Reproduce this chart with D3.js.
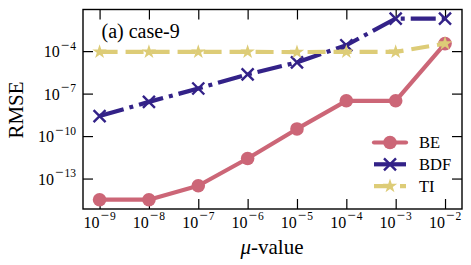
<!DOCTYPE html>
<html>
<head>
<meta charset="utf-8">
<script src="https://cdn.jsdelivr.net/npm/d3@7"></script>
<style>
  body { margin: 0; background: #fff; }
  svg { display: block; }
  svg text { font-family: "Liberation Serif", "Times New Roman", Times, serif; }
</style>
</head>
<body>
<svg id="chart" width="471" height="265"></svg>
<script>
// data
var muValues = [1e-9, 1e-8, 1e-7, 1e-6, 1e-5, 1e-4, 1e-3, 1e-2];
var xTickExp = [-9, -8, -7, -6, -5, -4, -3, -2];
var yTickExp = [-13, -10, -7, -4];
var seriesNames = ["BE", "BDF", "TI"];
var beValues  = [3.2e-15, 3.2e-15, 3.1e-14, 2.6e-12, 3.2e-10, 3.1e-8, 3.1e-8, 3.4e-4];
var bdfValues = [2.6e-9, 2.6e-8, 2.3e-7, 2.3e-6, 1.6e-5, 2.6e-4, 2.0e-2, 2.0e-2];
var tiValues  = [8.8e-5, 8.8e-5, 8.8e-5, 8.8e-5, 8.6e-5, 8.8e-5, 8.8e-5, 3.4e-4];

var svg = d3.select("#chart");
var L = 83, R = 462, T = 9.5, B = 209;

var x = d3.scaleLog().domain([Math.pow(10, -9.336), Math.pow(10, -1.656)]).range([L, R]);
var y = d3.scaleLog().domain([Math.pow(10, -15.15), Math.pow(10, -1.06)]).range([B, T]);

var styles = {
  BE:  { color: "#CC6677", dash: null,        values: beValues },
  BDF: { color: "#332288", dash: "25,6,4,6",  values: bdfValues },
  TI:  { color: "#DDCC77", dash: "18,8",      values: tiValues }
};

// "10" with a mathtext-like superscript (wide minus sign)
function supLabel(sel, exp) {
  sel.text(null);
  sel.append("tspan").attr("font-size", 16).text("10");
  sel.append("tspan").attr("dy", -7.5).attr("dx", 1).attr("font-size", 15).text("\u2212");
  sel.append("tspan").attr("dx", 1).attr("font-size", 11.5).text(String(Math.abs(exp)));
}

// axes (ticks inside, all four sides)
var xTicks = xTickExp.map(function(e) { return Math.pow(10, e); });
var yTicks = yTickExp.map(function(e) { return Math.pow(10, e); });

function noDomain(g) { g.select(".domain").remove(); }

svg.append("g").attr("transform", "translate(0," + B + ")")
  .call(d3.axisBottom(x).tickValues(xTicks).tickSizeInner(-10).tickSizeOuter(0).tickFormat(""))
  .call(noDomain);
svg.append("g").attr("transform", "translate(0," + T + ")")
  .call(d3.axisTop(x).tickValues(xTicks).tickSizeInner(-10).tickSizeOuter(0).tickFormat(""))
  .call(noDomain);
svg.append("g").attr("transform", "translate(" + L + ",0)")
  .call(d3.axisLeft(y).tickValues(yTicks).tickSizeInner(-10).tickSizeOuter(0).tickFormat(""))
  .call(noDomain);
svg.append("g").attr("transform", "translate(" + R + ",0)")
  .call(d3.axisRight(y).tickValues(yTicks).tickSizeInner(-10).tickSizeOuter(0).tickFormat(""))
  .call(noDomain);
svg.selectAll(".tick line").attr("stroke", "#000").attr("stroke-width", 1.2);

// tick labels
svg.append("g").selectAll("text").data(xTickExp).join("text")
  .attr("x", function(e) { return x(Math.pow(10, e)); })
  .attr("y", 227.5)
  .attr("text-anchor", "middle")
  .each(function(e) { supLabel(d3.select(this), e); });

svg.append("g").selectAll("text").data(yTickExp).join("text")
  .attr("x", 76)
  .attr("y", function(e) { return y(Math.pow(10, e)) + 6; })
  .attr("text-anchor", "end")
  .each(function(e) { supLabel(d3.select(this), e); });

// lines and markers
var line = d3.line().x(function(d, i) { return x(muValues[i]); }).y(function(d) { return y(d); });

function marker(g, name, cx, cy) {
  var c = styles[name].color;
  if (name === "BE") {
    g.append("circle").attr("cx", cx).attr("cy", cy).attr("r", 6.8).attr("fill", c);
  } else if (name === "BDF") {
    var s = 6;
    g.append("path")
      .attr("d", "M" + (cx - s) + "," + (cy - s) + "L" + (cx + s) + "," + (cy + s) +
                 "M" + (cx - s) + "," + (cy + s) + "L" + (cx + s) + "," + (cy - s))
      .attr("stroke", c).attr("stroke-width", 2.4).attr("fill", "none");
  } else {
    g.append("path")
      .attr("transform", "translate(" + cx + "," + cy + ")")
      .attr("d", d3.symbol().type(d3.symbolStar).size(65)())
      .attr("fill", c);
  }
}

seriesNames.forEach(function(name) {
  var st = styles[name];
  var g = svg.append("g");
  g.append("path").datum(st.values)
    .attr("d", line)
    .attr("fill", "none")
    .attr("stroke", st.color)
    .attr("stroke-width", 4.2)
    .attr("stroke-linecap", name === "BE" ? "round" : "butt")
    .attr("stroke-linejoin", "round")
    .attr("stroke-dasharray", st.dash);
  st.values.forEach(function(v, i) { marker(g, name, x(muValues[i]), y(v)); });
});

// frame
svg.append("rect").attr("x", L).attr("y", T).attr("width", R - L).attr("height", B - T)
  .attr("fill", "none").attr("stroke", "#000").attr("stroke-width", 1.4);

// title inside plot
svg.append("text").attr("x", 101.5).attr("y", 38).attr("font-size", 20).text("(a) case-9");

// legend
var lg = svg.append("g");
seriesNames.forEach(function(name, i) {
  var st = styles[name];
  var ly = 142.5 + i * 21.8;
  lg.append("line").attr("x1", 374).attr("x2", 406).attr("y1", ly).attr("y2", ly)
    .attr("stroke", st.color).attr("stroke-width", 4.2)
    .attr("stroke-linecap", name === "BE" ? "round" : "butt")
    .attr("stroke-dasharray", name === "TI" ? "18,8" : null);
  marker(lg, name, 390, ly);
  lg.append("text").attr("x", 419).attr("y", ly + 5.5).attr("font-size", 16.5).text(name);
});

// axis titles
svg.append("text")
  .attr("transform", "translate(23,110) rotate(-90)")
  .attr("text-anchor", "middle")
  .attr("font-size", 21)
  .text("RMSE");

var xl = svg.append("text").attr("x", 272).attr("y", 254).attr("text-anchor", "middle").attr("font-size", 21);
xl.append("tspan").attr("font-style", "italic").text("\u03bc");
xl.append("tspan").text("-value");
</script>
</body>
</html>
